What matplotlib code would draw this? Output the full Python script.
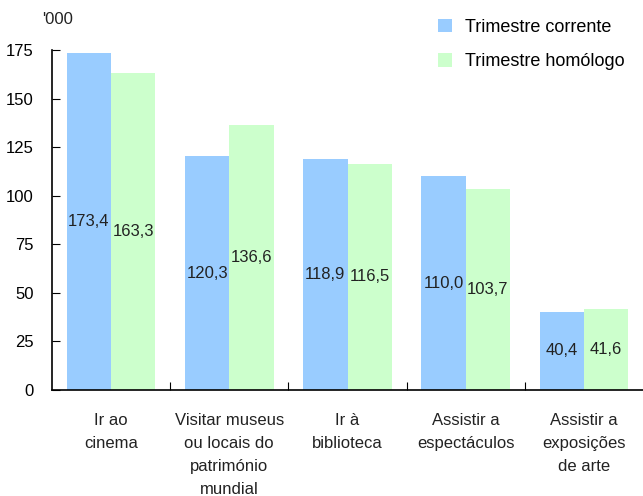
import numpy as np
import matplotlib
matplotlib.use('Agg')
import matplotlib.pyplot as plt
from matplotlib.font_manager import fontManager

# fonte estreita, se existir
nomes = [f.name for f in fontManager.ttflist]
if 'Liberation Sans Narrow' in nomes:
    plt.rcParams['font.family'] = ['Liberation Sans Narrow', 'DejaVu Sans']
else:
    plt.rcParams['font.family'] = ['Liberation Sans', 'DejaVu Sans']

categorias = ['Ir ao\ncinema', 'Visitar museus\nou locais do\npatrimónio\nmundial',
              'Ir à\nbiblioteca', 'Assistir a\nespectáculos', 'Assistir a\nexposições\nde arte']
corrente = [173.4, 120.3, 118.9, 110.0, 40.4]
homologo = [163.3, 136.6, 116.5, 103.7, 41.6]

fig = plt.figure(figsize=(6.43, 4.96), dpi=100)
ax = fig.add_axes([52/643, 1-390/496, 1-52/643, 340/496])

x = np.arange(len(categorias))
w = 0.375
b1 = ax.bar(x - w/2, corrente, w, color='#99CCFF', label='Trimestre corrente')
b2 = ax.bar(x + w/2, homologo, w, color='#CCFFCC', label='Trimestre homólogo')

# valores no meio das barras
for barras, vals in [(b1, corrente), (b2, homologo)]:
    for r, v in zip(barras, vals):
        ax.text(r.get_x() + r.get_width()/2, v/2, ('%.1f' % v).replace('.', ','),
                ha='center', va='center', fontsize=12, color='#222222')

ax.set_xlim(-0.5, 4.5)
ax.set_ylim(0, 175)
ax.set_yticks([0, 25, 50, 75, 100, 125, 150, 175])
ax.tick_params(axis='y', direction='in', length=6, labelsize=12, pad=13)
ax.set_xticks(np.arange(0.5, 4.5, 1))
ax.set_xticklabels([])
ax.tick_params(axis='x', direction='in', length=6)
for i, c in enumerate(categorias):
    ax.text(i, -12, c, ha='center', va='top', fontsize=12, linespacing=1.65,
            color='#222222')

ax.spines['top'].set_visible(False)
ax.spines['right'].set_visible(False)
ax.spines['left'].set_linewidth(1.2)
ax.spines['bottom'].set_linewidth(1.2)

fig.text(42/643, 1-20/496, "'000", fontsize=12, va='center', color='#222222')

leg = ax.legend(loc='upper left', frameon=False, fontsize=13,
                handlelength=0.8, handleheight=0.8,
                labelspacing=0.95, handletextpad=0.7)
leg.set_bbox_to_anchor((0.625, 1.14), transform=ax.transAxes)

fig.savefig('out.png', dpi=100)
